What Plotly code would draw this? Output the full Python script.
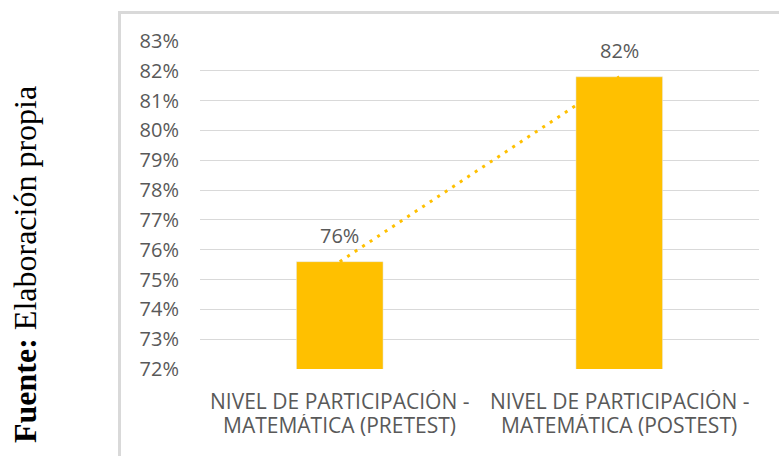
import plotly.graph_objects as go

cat_line1 = ["NIVEL DE PARTICIPACIÓN -", "NIVEL DE PARTICIPACIÓN -"]
cat_line2 = ["MATEMÁTICA (PRETEST)", "MATEMÁTICA (POSTEST)"]
categories = [a + " " + b for a, b in zip(cat_line1, cat_line2)]
values = [75.6, 81.8]
labels = ["76%", "82%"]
y_ticks = list(range(72, 84))
y_ticktext = [f"{v}%" for v in y_ticks]
source_text = "<b>Fuente:</b> Elaboración propia"

W, H = 779, 456
ML, MR, MT, MB = 200, 20, 41, 87
PW, PH = W - ML - MR, H - MT - MB

def px_x(p):
    return (p - ML) / PW

def px_y(p):
    return (H - MB - p) / PH

BAR = "#FFC000"
TXT = "#595959"
GRID = "#D9D9D9"

fig = go.Figure()
fig.add_trace(go.Bar(x=categories, y=values, marker_color=BAR, width=0.31,
                     hoverinfo="skip"))
fig.add_trace(go.Scatter(x=categories, y=values, mode="lines",
                         line=dict(color=BAR, width=3, dash="3px,6px"),
                         hoverinfo="skip"))

for c, v, t in zip(categories, values, labels):
    fig.add_annotation(x=c, y=v, text=t, showarrow=False, yshift=26,
                       font=dict(family="Open Sans", size=20, color=TXT))

for c, l1, l2 in zip(categories, cat_line1, cat_line2):
    fig.add_annotation(x=c, yref="paper", y=px_y(401), text=l1, showarrow=False,
                       xanchor="center", yanchor="middle", height=22,
                       font=dict(family="Open Sans", size=21, color=TXT))
    fig.add_annotation(x=c, yref="paper", y=px_y(425), text=l2, showarrow=False,
                       xanchor="center", yanchor="middle", height=22,
                       font=dict(family="Open Sans", size=21, color=TXT))

fig.add_annotation(xref="paper", yref="paper", x=px_x(25), y=px_y(265),
                   xanchor="center", yanchor="middle",
                   text=source_text, textangle=-90, showarrow=False,
                   font=dict(family="Liberation Serif", size=32, color="black"))

fig.add_shape(type="rect", xref="paper", yref="paper",
              x0=px_x(119.5), x1=px_x(790), y0=px_y(12.5), y1=px_y(470),
              line=dict(color=GRID, width=3), fillcolor="rgba(0,0,0,0)",
              layer="below")

fig.update_layout(
    width=W, height=H,
    margin=dict(l=ML, r=MR, t=MT, b=MB),
    paper_bgcolor="white", plot_bgcolor="white",
    showlegend=False,
    font=dict(family="Open Sans", size=20, color=TXT),
    xaxis=dict(showgrid=False, showline=False, zeroline=False, ticks="",
               showticklabels=False),
    yaxis=dict(range=[72, 83], tickvals=y_ticks, ticktext=y_ticktext,
               showgrid=True, gridcolor=GRID, gridwidth=1, zeroline=False,
               showline=False, ticks="", ticklabelstandoff=20,
               tickfont=dict(family="Open Sans", size=20, color=TXT)),
)

fig.write_html("out.html")
